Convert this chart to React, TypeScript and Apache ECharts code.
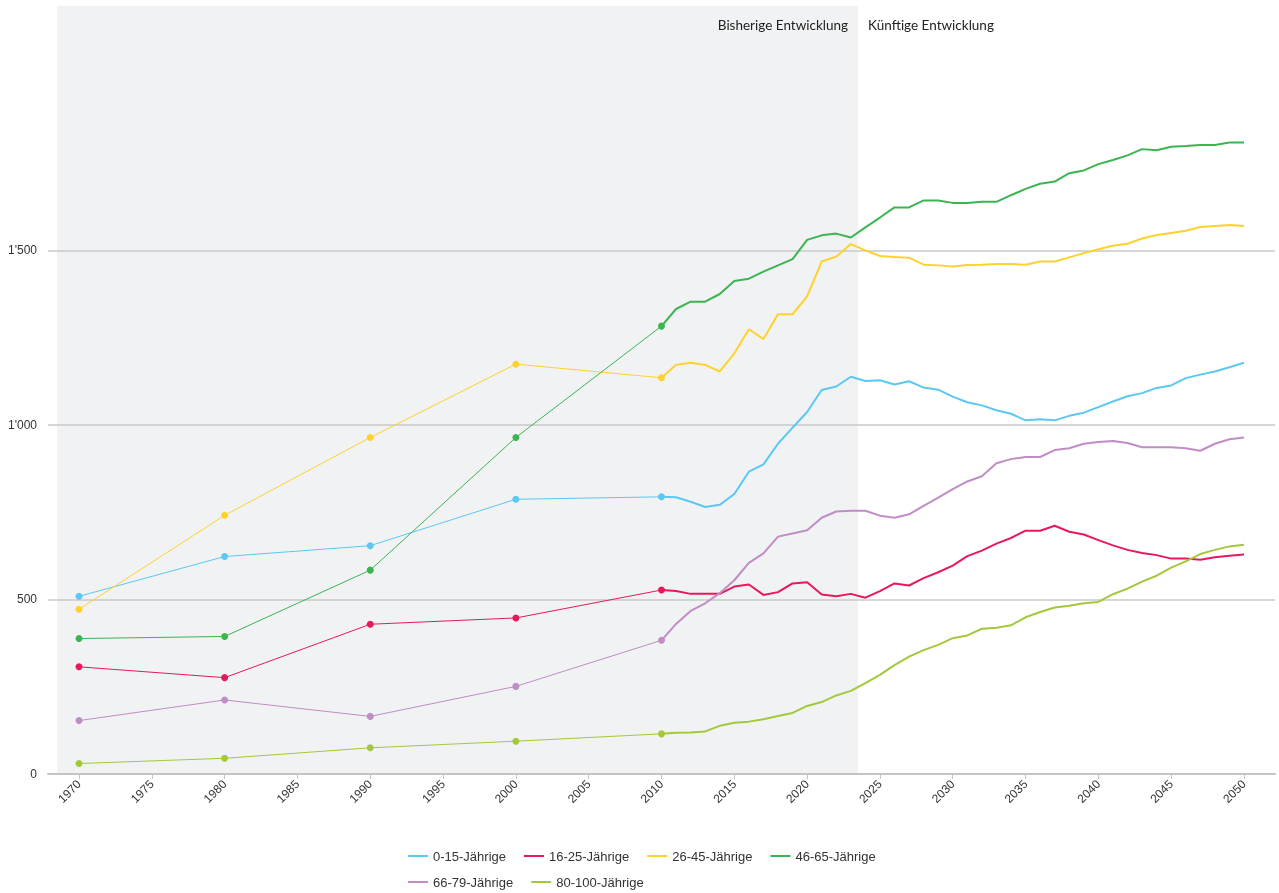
import React, { useEffect, useRef } from "react";
import * as echarts from "echarts";

const histYears = [1970, 1980, 1990, 2000, 2010];
const projYears: number[] = [];
for (let y = 2010; y <= 2050; y++) projYears.push(y);

const tickYears = [1970, 1975, 1980, 1985, 1990, 1995, 2000, 2005, 2010, 2015, 2020, 2025, 2030, 2035, 2040, 2045, 2050];

const names = ["0-15-Jährige", "16-25-Jährige", "26-45-Jährige", "46-65-Jährige", "66-79-Jährige", "80-100-Jährige"];
const colors = ["#5cc8f2", "#e8185c", "#fdd22d", "#3cb451", "#c08dc5", "#a3c93a"];

const hist0_15 = [509, 623, 654, 787, 794];
const hist16_25 = [307, 276, 429, 447, 527];
const hist26_45 = [472, 741, 964, 1174, 1135];
const hist46_65 = [388, 394, 584, 964, 1283];
const hist66_79 = [153, 212, 165, 251, 383];
const hist80_100 = [30, 45, 75, 94, 115];

const proj0_15 = [794, 793, 780, 765, 771, 802, 866, 887, 946, 992, 1037, 1100, 1110, 1138, 1126, 1128, 1116, 1125, 1107, 1101, 1081, 1065, 1056, 1042, 1032, 1013, 1016, 1013, 1026, 1035, 1051, 1067, 1082, 1091, 1106, 1113, 1134, 1144, 1153, 1165, 1178];
const proj16_25 = [527, 524, 516, 516, 516, 537, 543, 513, 521, 546, 549, 514, 509, 516, 505, 524, 546, 540, 561, 578, 597, 624, 640, 660, 676, 697, 697, 711, 694, 686, 670, 655, 642, 633, 627, 617, 617, 614, 621, 625, 629];
const proj26_45 = [1135, 1172, 1178, 1172, 1153, 1205, 1274, 1246, 1317, 1317, 1368, 1468, 1482, 1518, 1500, 1484, 1481, 1479, 1459, 1457, 1454, 1458, 1459, 1461, 1461, 1459, 1468, 1468, 1480, 1492, 1503, 1513, 1519, 1534, 1544, 1550, 1556, 1567, 1570, 1573, 1570];
const proj46_65 = [1283, 1332, 1353, 1353, 1375, 1412, 1419, 1439, 1457, 1475, 1530, 1543, 1548, 1537, 1566, 1594, 1623, 1623, 1643, 1643, 1636, 1636, 1639, 1639, 1658, 1676, 1691, 1697, 1721, 1729, 1747, 1759, 1772, 1790, 1787, 1797, 1799, 1802, 1802, 1809, 1809];
const proj66_79 = [383, 430, 467, 489, 518, 555, 605, 632, 680, 689, 698, 734, 752, 754, 754, 740, 734, 744, 768, 792, 816, 838, 853, 890, 902, 908, 908, 928, 933, 946, 951, 954, 948, 936, 936, 936, 933, 926, 946, 959, 964];
const proj80_100 = [115, 118, 119, 122, 138, 147, 150, 157, 166, 175, 195, 206, 225, 238, 260, 284, 312, 336, 355, 370, 389, 397, 416, 419, 426, 449, 464, 477, 482, 489, 493, 515, 531, 551, 568, 591, 609, 630, 642, 652, 657];

const histAll = [hist0_15, hist16_25, hist26_45, hist46_65, hist66_79, hist80_100];
const projAll = [proj0_15, proj16_25, proj26_45, proj46_65, proj66_79, proj80_100];

const xMin = 1967.87;
const xMax = 2052.13;
const pastStart = 1968.5;
const splitYear = 2023.5;

const fmt = (v: number) => {
  const s = String(Math.round(v));
  return s.length > 3 ? s.slice(0, s.length - 3) + "'" + s.slice(s.length - 3) : s;
};

export default function App() {
  const ref = useRef<HTMLDivElement>(null);
  useEffect(() => {
    if (!ref.current) return;
    const chart = echarts.init(ref.current, null, { renderer: "svg" });
    const series: any[] = [];
    const areaLabel = {
      show: true,
      distance: 10,
      offset: [0, 2],
      fontFamily: "Lato",
      fontSize: 13.5,
      color: "#222",
    };
    names.forEach((name, i) => {
      series.push({
        name,
        type: "line",
        color: colors[i],
        data: histYears.map((y, k) => [y, histAll[i][k]]),
        symbol: "circle",
        symbolSize: 7,
        showSymbol: true,
        lineStyle: { width: 1, color: colors[i] },
        itemStyle: { color: colors[i] },
        z: 3,
        ...(i === 0
          ? {
              markArea: {
                silent: true,
                z: 1,
                data: [
                  [
                    {
                      xAxis: pastStart,
                      itemStyle: { color: "#f1f2f4" },
                      label: { ...areaLabel, position: "insideTopRight", formatter: "Bisherige Entwicklung" },
                    },
                    { xAxis: splitYear },
                  ],
                  [
                    {
                      xAxis: splitYear,
                      itemStyle: { color: "rgba(0,0,0,0)" },
                      label: { ...areaLabel, position: "insideTopLeft", formatter: "Künftige Entwicklung" },
                    },
                    { xAxis: xMax },
                  ],
                ],
              },
            }
          : {}),
      });
      series.push({
        name,
        type: "line",
        color: colors[i],
        data: projYears.map((y, k) => [y, projAll[i][k]]),
        showSymbol: false,
        symbol: "none",
        lineStyle: { width: 2, color: colors[i] },
        z: 3,
      });
    });

    chart.setOption({
      animation: false,
      textStyle: { fontFamily: "Liberation Sans, Arial, sans-serif" },
      grid: { left: 48, right: 4, top: 6, bottom: 119, containLabel: false },
      legend: {
        data: names.map((n, i) => ({ name: n, itemStyle: { color: colors[i] } })),
        left: 403,
        top: 843,
        width: 520,
        icon: "rect",
        itemWidth: 20,
        itemHeight: 2,
        itemGap: 10,
        textStyle: { fontSize: 13, color: "#333", lineHeight: 16, padding: [0, 8, 0, 0] },
      },
      xAxis: {
        type: "value",
        min: xMin,
        max: xMax,
        z: 2,
        axisLine: { show: true, lineStyle: { color: "#c4c4c4", width: 2 } },
        axisTick: { show: true, length: 5, customValues: tickYears, lineStyle: { color: "#c4c4c4" } },
        axisLabel: {
          customValues: tickYears,
          rotate: 45,
          fontSize: 12,
          color: "#333",
          margin: 8,
          formatter: (v: number) => String(v),
        },
        splitLine: { show: false },
      },
      yAxis: {
        type: "value",
        min: 0,
        max: 2200,
        interval: 500,
        z: 2,
        axisLine: { show: false },
        axisTick: { show: false },
        axisLabel: {
          fontSize: 12,
          color: "#333",
          margin: 11,
          formatter: (v: number) => (v > 1500 ? "" : fmt(v)),
        },
        splitLine: {
          show: true,
          lineStyle: {
            color: ["#c8c8c8", "#c8c8c8", "#c8c8c8", "#c8c8c8", "rgba(0,0,0,0)", "rgba(0,0,0,0)"],
            width: 1.5,
          },
        },
      },
      series,
    });
    return () => chart.dispose();
  }, []);
  return <div ref={ref} style={{ position: "fixed", left: 0, top: 0, width: 1279, height: 893 }} />;
}
